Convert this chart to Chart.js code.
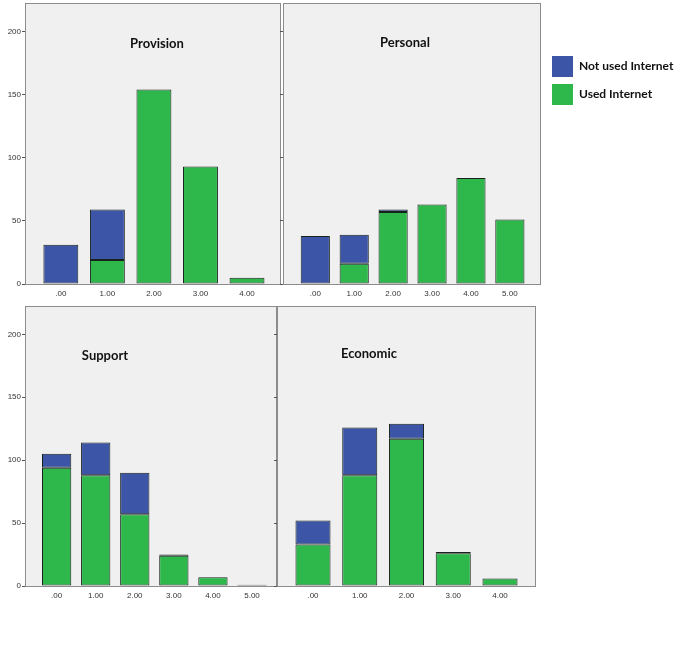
<!DOCTYPE html>
<html>
<head>
<meta charset="utf-8">
<script src="https://cdn.jsdelivr.net/npm/chart.js@4"></script>
<style>
    body { margin: 0; background: #fff; }
    #page { position: relative; width: 694px; height: 667px; }
    .panel { position: absolute; }
    .legend-box { position: absolute; left: 552px; width: 21px; height: 21px; }
    .legend-text { position: absolute; left: 579px; font: bold 12px Lato, sans-serif; color: #111; }
</style>
</head>
<body>
<div id="page">
    <div class="panel" style="left:0;top:0;width:282px;height:300px"><canvas id="provision-chart"></canvas></div>
    <div class="panel" style="left:280px;top:0;width:262px;height:300px"><canvas id="personal-chart"></canvas></div>
    <div class="panel" style="left:0;top:303px;width:278px;height:299px"><canvas id="support-chart"></canvas></div>
    <div class="panel" style="left:274px;top:303px;width:263px;height:299px"><canvas id="economic-chart"></canvas></div>

    <div class="legend-box" style="top:56px;background:#3c55a6"></div>
    <div class="legend-text" style="top:58px">Not used Internet</div>
    <div class="legend-box" style="top:84px;background:#2eb84b"></div>
    <div class="legend-text" style="top:86px">Used Internet</div>
</div>
<script>
(function() {
    'use strict';

    // Tick labels
    var yTicks = [0, 50, 100, 150, 200];
    var fiveCats = ['.00', '1.00', '2.00', '3.00', '4.00'];
    var sixCats = ['.00', '1.00', '2.00', '3.00', '4.00', '5.00'];

    // Counts per panel
    var provisionNotUsed = [31, 40, 0, 0, 0];
    var provisionUsed = [0, 19, 154, 93, 5];

    var personalNotUsed = [38, 23, 2, 0, 0, 0];
    var personalUsed = [0, 16, 57, 63, 84, 51];

    var supportNotUsed = [11, 26, 33, 1, 0, 0];
    var supportUsed = [94, 88, 57, 24, 7, 1];

    var economicNotUsed = [19, 38, 12, 1, 0];
    var economicUsed = [33, 88, 117, 26, 6];

    var BLUE = '#3c55a6';
    var GREEN = '#2eb84b';

    // Gray plot background, frame and the panel title
    var panelBox = {
        id: 'panelBox',
        beforeDraw: function(chart) {
            var a = chart.chartArea;
            var ctx = chart.ctx;
            ctx.save();
            ctx.fillStyle = '#f0f0f0';
            ctx.fillRect(a.left, a.top, a.right - a.left, a.bottom - a.top);
            ctx.restore();
        },
        afterDraw: function(chart, args, opts) {
            var a = chart.chartArea;
            var ctx = chart.ctx;
            ctx.save();
            ctx.strokeStyle = '#8c8c8c';
            ctx.lineWidth = 1;
            ctx.strokeRect(a.left + 0.5, a.top + 0.5, a.right - a.left - 1, a.bottom - a.top);
            ctx.fillStyle = '#111';
            ctx.font = 'bold 13px Lato, sans-serif';
            ctx.textAlign = 'center';
            ctx.textBaseline = 'middle';
            ctx.fillText(opts.title, a.left + opts.titleX, a.top + opts.titleY);
            ctx.restore();
        }
    };

    function makePanel(id, cats, notUsed, used, o) {
        var toPoints = function(arr) {
            return arr.map(function(v, i) { return { x: i, y: v }; });
        };
        return new Chart(document.getElementById(id), {
            type: 'bar',
            data: {
                datasets: [{
                    label: 'Used Internet',
                    data: toPoints(used),
                    backgroundColor: GREEN
                }, {
                    label: 'Not used Internet',
                    data: toPoints(notUsed),
                    backgroundColor: BLUE
                }]
            },
            options: {
                responsive: true,
                maintainAspectRatio: false,
                animation: false,
                layout: { padding: { top: 3, right: 1 } },
                datasets: {
                    bar: {
                        borderColor: '#17221b',
                        borderWidth: 1,
                        borderSkipped: false,
                        barPercentage: 0.75,
                        categoryPercentage: 1
                    }
                },
                plugins: {
                    legend: { display: false },
                    tooltip: { enabled: false },
                    panelBox: { title: o.title, titleX: o.titleX, titleY: o.titleY }
                },
                scales: {
                    x: {
                        type: 'linear',
                        stacked: true,
                        offset: false,
                        min: o.xMin,
                        max: o.xMax,
                        afterBuildTicks: function(scale) {
                            scale.ticks = cats.map(function(c, i) { return { value: i }; });
                        },
                        afterFit: function(scale) {
                            scale.height = 16;
                            scale.paddingLeft = 0;
                            scale.paddingRight = 0;
                        },
                        grid: { display: false, drawTicks: false },
                        border: { display: false },
                        ticks: {
                            padding: 5,
                            maxRotation: 0,
                            autoSkip: false,
                            color: '#333',
                            font: { family: 'Liberation Sans', size: 8 },
                            callback: function(v) { return cats[v]; }
                        }
                    },
                    y: {
                        stacked: true,
                        min: 0,
                        max: 222.5,
                        afterBuildTicks: function(scale) {
                            scale.ticks = yTicks.map(function(v) { return { value: v }; });
                        },
                        afterFit: function(scale) {
                            scale.width = o.yWidth;
                            scale.paddingTop = 0;
                            scale.paddingBottom = 0;
                        },
                        grid: {
                            drawOnChartArea: false,
                            tickLength: 3,
                            tickColor: '#555'
                        },
                        border: { display: false },
                        ticks: {
                            display: o.yLabels,
                            padding: 1,
                            color: '#333',
                            font: { family: 'Liberation Sans', size: 8 }
                        }
                    }
                }
            },
            plugins: [panelBox]
        });
    }

    makePanel('provision-chart', fiveCats, provisionNotUsed, provisionUsed, {
        title: 'Provision', titleX: 132, titleY: 41,
        xMin: -0.77, xMax: 4.73, yWidth: 25, yLabels: true
    });
    makePanel('personal-chart', sixCats, personalNotUsed, personalUsed, {
        title: 'Personal', titleX: 122, titleY: 40,
        xMin: -0.83, xMax: 5.8, yWidth: 3, yLabels: false
    });
    makePanel('support-chart', sixCats, supportNotUsed, supportUsed, {
        title: 'Support', titleX: 80, titleY: 50,
        xMin: -0.81, xMax: 5.64, yWidth: 25, yLabels: true
    });
    makePanel('economic-chart', fiveCats, economicNotUsed, economicUsed, {
        title: 'Economic', titleX: 92, titleY: 48,
        xMin: -0.77, xMax: 4.77, yWidth: 3, yLabels: false
    });
})();
</script>
</body>
</html>
